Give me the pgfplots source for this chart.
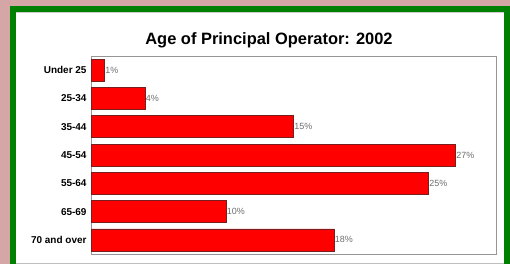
\documentclass[border=0pt]{standalone}
\usepackage{pgfplots}
\pgfplotsset{compat=1.18}
\usepackage{fontspec}
\setmainfont{Liberation Sans}
\definecolor{bgpink}{RGB}{213,166,166}
\definecolor{frgreen}{RGB}{0,128,0}
\definecolor{axgray}{RGB}{150,150,150}
\definecolor{lblgray}{RGB}{110,110,110}
\definecolor{barred}{RGB}{255,0,0}
\definecolor{bardraw}{RGB}{120,30,30}
\begin{document}
\begin{tikzpicture}[x=1bp,y=1bp]
\fill[bgpink] (0,0) rectangle (510,264);
\fill[frgreen] (10,0) rectangle (510,258);
\fill[white] (16,1.5) rectangle (504,252);
\fill[black!25] (16,0) rectangle (504,1.5);
\draw[black!20,line width=0.8bp] (16,251.6) -- (504,251.6);
\node[font=\bfseries\fontsize{16.5}{18}\selectfont] at (269,224) {Age of Principal Operator: 2002};
\begin{axis}[
  at={(91bp,10bp)}, anchor=south west,
  scale only axis, width=405bp, height=198bp,
  xbar, bar width=22bp,
  xmin=0, xmax=30,
  ymin=-0.5, ymax=6.5, y dir=reverse,
  ytick={0,...,6},
  yticklabels={Under 25,25-34,35-44,45-54,55-64,65-69,70 and over},
  yticklabel style={font=\bfseries\fontsize{10}{11}\selectfont, xshift=-1bp},
  xtick=\empty,
  major tick length=0pt,
  axis line style={axgray, line width=0.8bp},
  /pgf/number format/assume math mode=true,
  nodes near coords={\pgfmathprintnumber{\pgfplotspointmeta}\%},
  nodes near coords style={font=\fontsize{9}{10}\selectfont, text=lblgray, anchor=west, inner xsep=0.5bp},
  point meta=x,
  clip=false,
]
\addplot[fill=barred, draw=bardraw, line width=0.6bp] coordinates {
(1,0) (4,1) (15,2) (27,3) (25,4) (10,5) (18,6)
};
\end{axis}
\end{tikzpicture}
\end{document}
